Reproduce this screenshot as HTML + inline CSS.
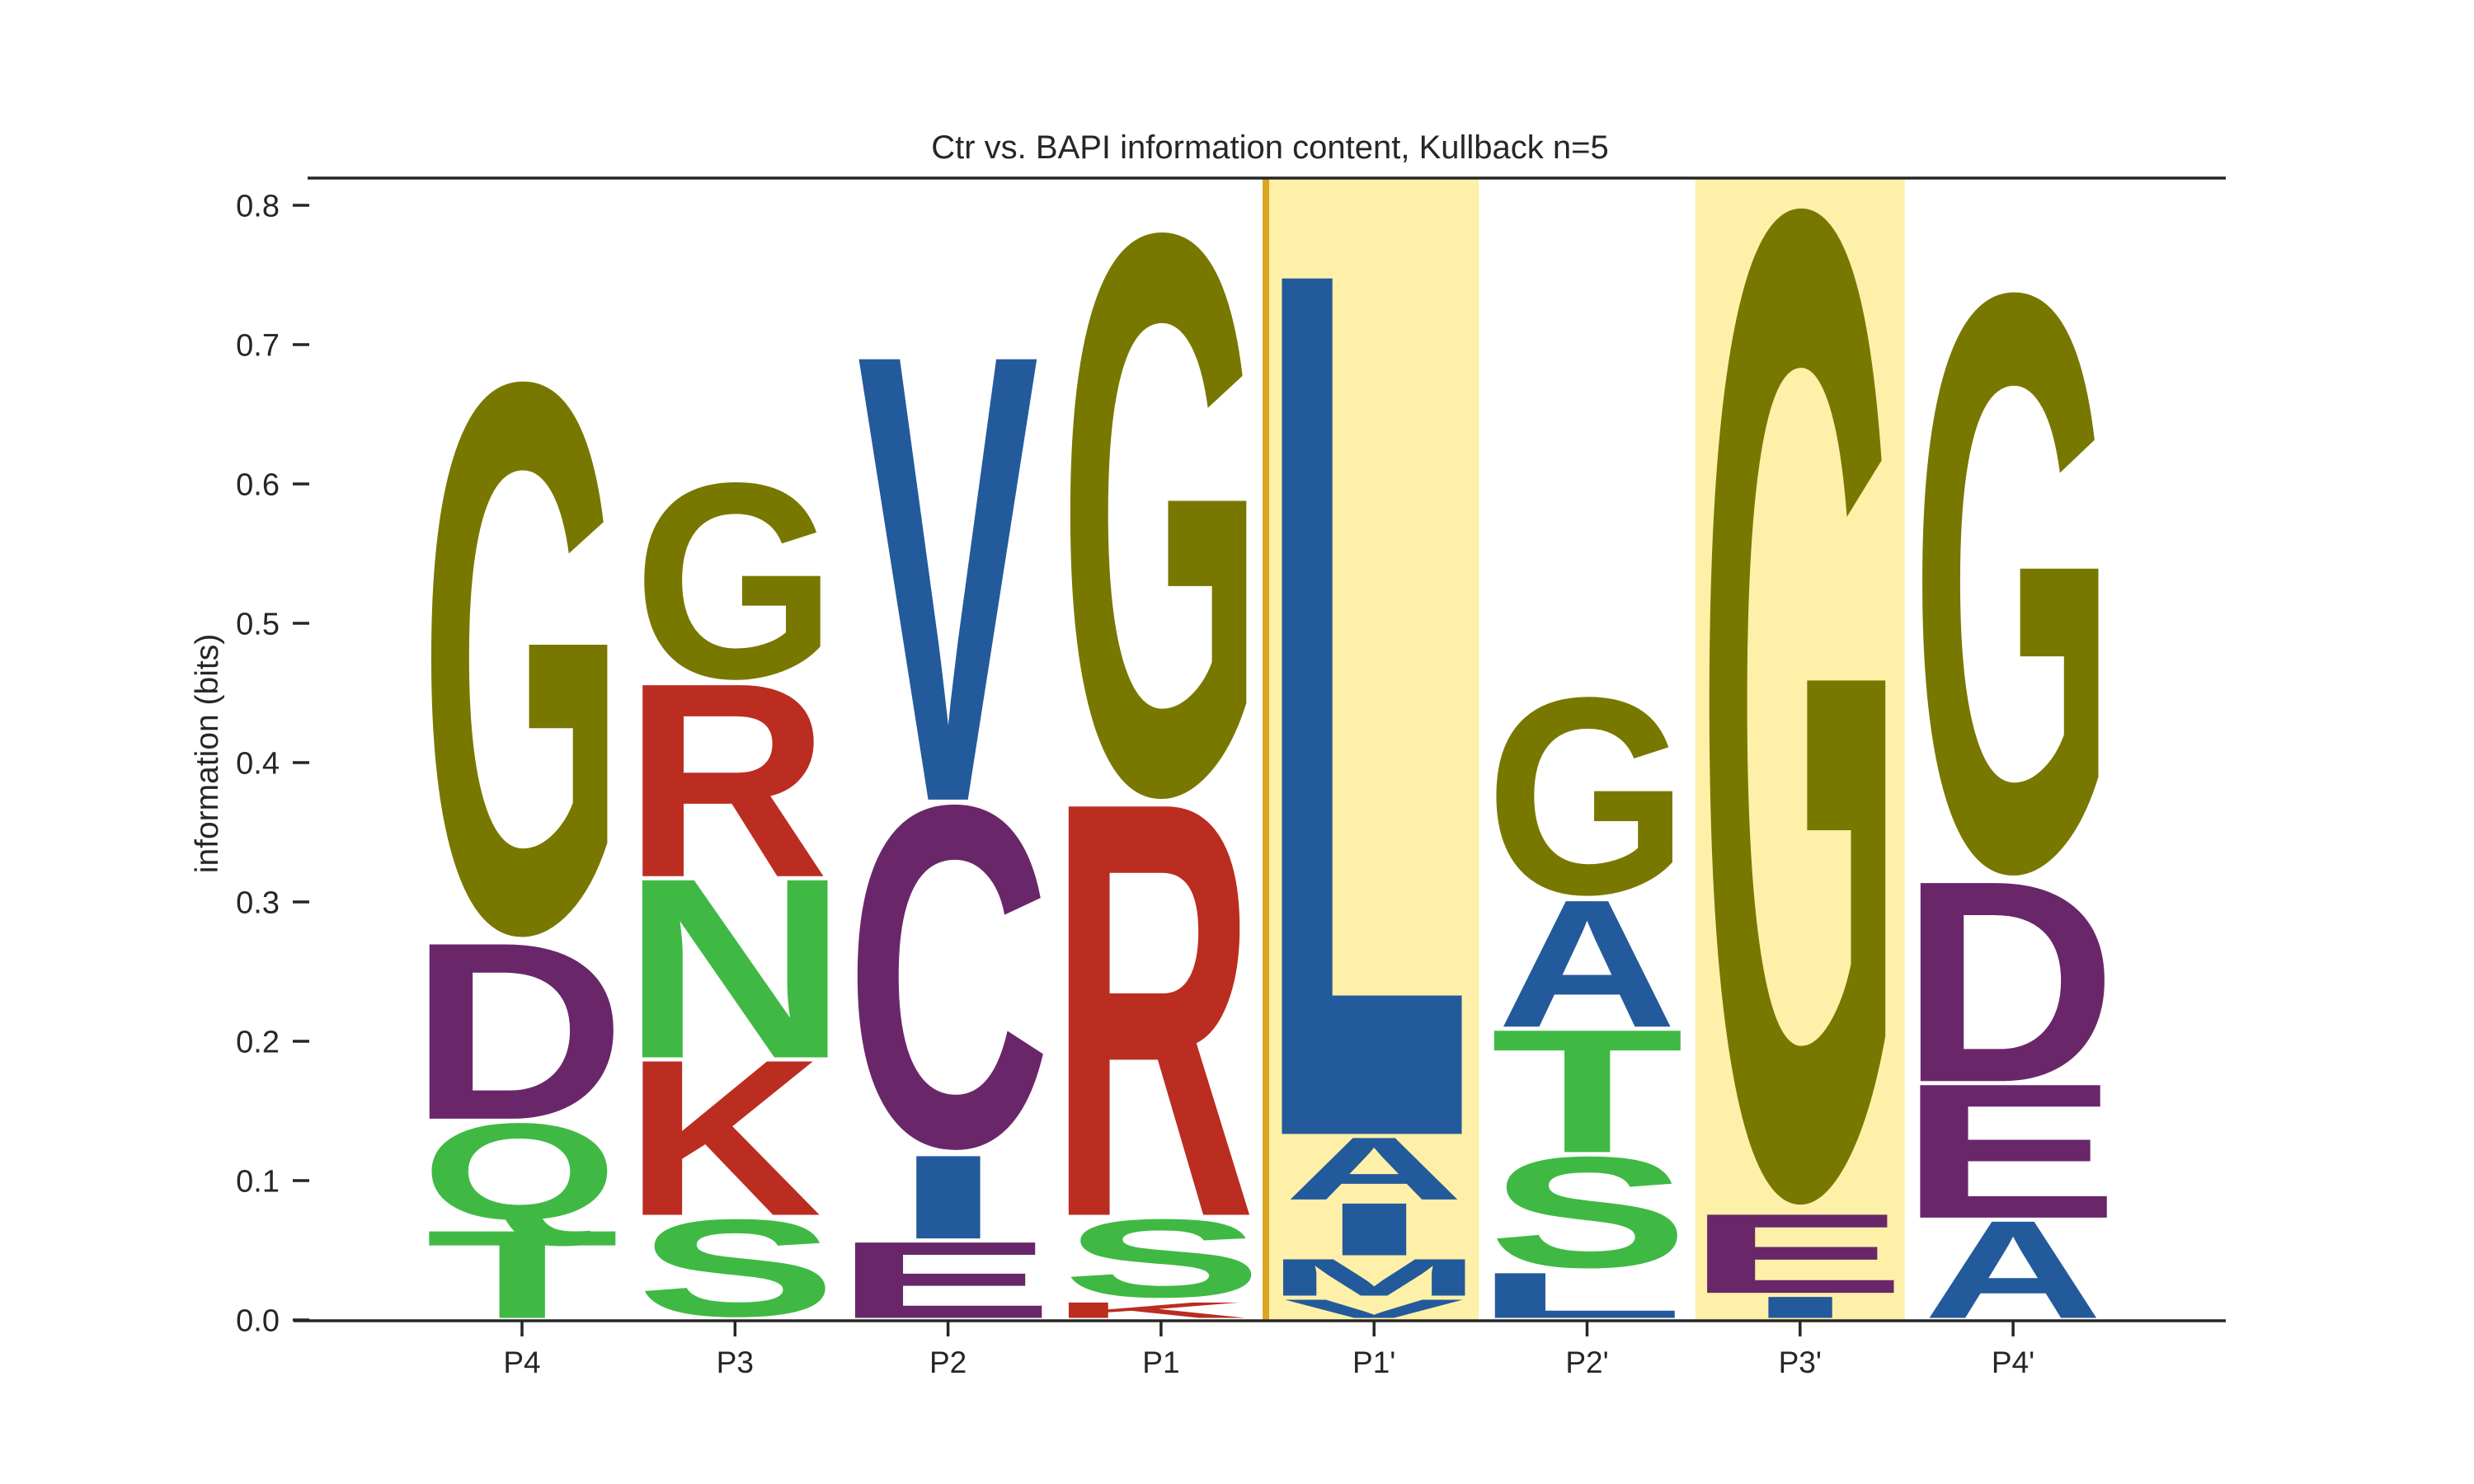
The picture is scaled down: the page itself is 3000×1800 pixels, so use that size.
<!DOCTYPE html>
<html><head><meta charset="utf-8">
<style>
html,body{margin:0;padding:0;background:#fff;}
svg{display:block;}
text{font-family:"Liberation Sans",Arial,sans-serif;}
</style></head>
<body>
<svg id="chart" width="3000" height="1800" viewBox="0 0 3000 1800" xmlns="http://www.w3.org/2000/svg">
  <rect x="0" y="0" width="3000" height="1800" fill="#ffffff"/>
  <g id="bands"></g>
  <g id="letters"></g>
  <g id="axes"></g>
  <text x="1540" y="192" font-size="40" fill="#262626" text-anchor="middle">Ctr vs. BAPI information content, Kullback n=5</text>
  <text x="0" y="0" font-size="39" fill="#262626" text-anchor="middle" transform="translate(264,914) rotate(-90)">information (bits)</text>
</svg>
<script>
const positions = ["P4","P3","P2","P1","P1'","P2'","P3'","P4'"];
const stackLetters = [
  ["T","Q","D","G"],
  ["S","K","N","R","G"],
  ["E","I","C","V"],
  ["K","S","R","G"],
  ["V","M","I","A","L"],
  ["L","S","T","A","G"],
  ["I","E","G"],
  ["A","E","D","G"]
];
const stackHeights = [
  [0.065,0.078,0.128,0.405],
  [0.074,0.113,0.130,0.140,0.146],
  [0.057,0.062,0.253,0.319],
  [0.014,0.060,0.296,0.413],
  [0.016,0.029,0.040,0.047,0.617],
  [0.035,0.084,0.090,0.093,0.147],
  [0.018,0.059,0.724],
  [0.072,0.098,0.145,0.425]
];
const yTicks = [0.0,0.1,0.2,0.3,0.4,0.5,0.6,0.7,0.8];
const highlightPositions = ["P1'","P3'"];
const dividerAfter = "P1";

const NS = "http://www.w3.org/2000/svg";
const X0 = 633, DX = 258.3, Y0 = 1601, PXB = 1690;
function xPos(i){ return X0 + DX*i; }
function yPos(v){ return Y0 - v*PXB; }

const colors = {G:"#787800",V:"#235a9b",L:"#235a9b",A:"#235a9b",I:"#235a9b",M:"#235a9b",
  D:"#69276a",E:"#69276a",C:"#69276a",R:"#bb2d21",K:"#bb2d21",
  S:"#3fb944",T:"#3fb944",N:"#3fb944",Q:"#3fb944"};
// [left side-bearing fraction of advance, ink fraction of advance, ink top (em), ink bottom (em)]
const glyph = {G:[0.057,0.886,0.700,-0.014],I:[0.23,0.536,0.688,0],A:[0,1,0.688,0],C:[0.06,0.877,0.700,-0.014],
  D:[0.105,0.83,0.688,0],E:[0.114,0.81,0.688,0],K:[0.105,0.91,0.688,0],L:[0.12,0.84,0.688,0],
  M:[0.085,0.83,0.688,0],N:[0.105,0.79,0.688,0],Q:[0.055,0.915,0.700,-0.06],R:[0.105,0.874,0.688,0],
  S:[0.045,0.895,0.700,-0.014],T:[0.034,0.93,0.688,0],V:[0.006,0.99,0.688,0]};

const bands = document.getElementById('bands');
highlightPositions.forEach(p=>{
  const i = positions.indexOf(p);
  const r = document.createElementNS(NS,'rect');
  
  
  r.setAttribute('x', xPos(i)-127); r.setAttribute('y', yPos(0.8)-33);
  r.setAttribute('width',254); r.setAttribute('height', Y0-(yPos(0.8)-33));
  r.setAttribute('fill','#fef0a8');
  bands.appendChild(r);
});
{
  const i = positions.indexOf(dividerAfter);
  const l = document.createElementNS(NS,'rect');
  
  
  l.setAttribute('x', (xPos(i)+xPos(i+1))/2 - 4 - 2); l.setAttribute('y', yPos(0.8)-33);
  l.setAttribute('width',8); l.setAttribute('height', Y0-(yPos(0.8)-33));
  l.setAttribute('fill','#daa520');
  bands.appendChild(l);
}

const lg = document.getElementById('letters');
const W = 218, VPAD = 2.5;
positions.forEach((p,i)=>{
  let cum = 0;
  stackLetters[i].forEach((ch,j)=>{
    const h = stackHeights[i][j];
    const bot = yPos(cum) - VPAD, top = yPos(cum+h) + VPAD;
    cum += h;
    const g = glyph[ch];
    const inkW = ch === 'I' ? 80 : W;
    const inkH = (g[2]-g[3])*100;
    const sy = Math.max(bot-top,1)/inkH;
    const tl = inkW/g[1];
    const left = xPos(i) - inkW/2 - g[0]*tl;
    const baseline = bot + g[3]*100*sy;
    const t = document.createElementNS(NS,'text');
    
    
    t.setAttribute('x',0); t.setAttribute('y',0);
    t.setAttribute('font-size',100);
    t.setAttribute('font-weight','bold');
    t.setAttribute('textLength',tl);
    t.setAttribute('lengthAdjust','spacingAndGlyphs');
    t.setAttribute('fill',colors[ch]);
    t.setAttribute('transform','translate('+left+','+baseline+') scale(1,'+sy+')');
    t.textContent = ch;
    lg.appendChild(t);
  });
});

const ax = document.getElementById('axes');
function line(x1,y1,x2,y2,w,name){
  const l = document.createElementNS(NS,'line');
  
  
  l.setAttribute('x1',x1);l.setAttribute('y1',y1);l.setAttribute('x2',x2);l.setAttribute('y2',y2);
  l.setAttribute('stroke','#262626');l.setAttribute('stroke-width',w);
  ax.appendChild(l);
}
line(373,216,2699,216,3.5,'top-spine');
line(356,Y0+1,2699,Y0+1,3.5,'x-axis-line');
yTicks.forEach(v=>{
  line(355,yPos(v),375,yPos(v),3.5,'y-tick');
  const t = document.createElementNS(NS,'text');
  
  
  t.setAttribute('x',339); t.setAttribute('y',yPos(v)+13.5);
  t.setAttribute('font-size',38); t.setAttribute('fill','#262626'); t.setAttribute('text-anchor','end');
  t.textContent = v.toFixed(1);
  ax.appendChild(t);
});
positions.forEach((p,i)=>{
  line(xPos(i),Y0,xPos(i),Y0+20,3.5,'x-tick');
  const t = document.createElementNS(NS,'text');
  
  
  t.setAttribute('x',xPos(i)); t.setAttribute('y',1665);
  t.setAttribute('font-size',37); t.setAttribute('fill','#262626'); t.setAttribute('text-anchor','middle');
  t.textContent = p;
  ax.appendChild(t);
});
</script>
</body></html>
